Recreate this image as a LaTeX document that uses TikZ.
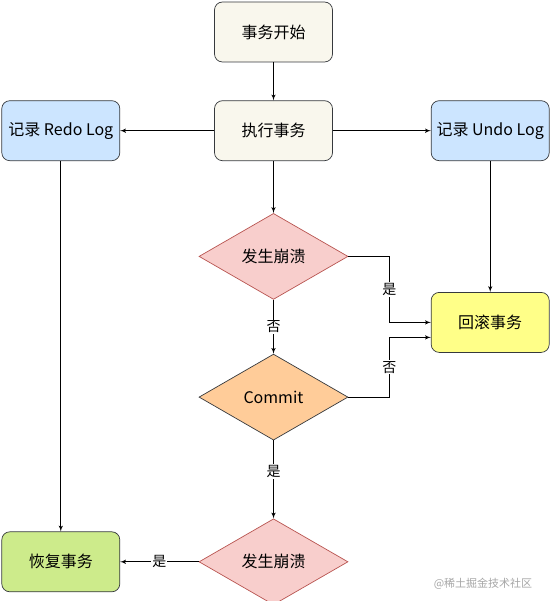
\documentclass[tikz,border=0pt]{standalone}
\usepackage{fontspec}
\setmainfont{Noto Sans CJK SC}
\usetikzlibrary{arrows,shapes.geometric,positioning}
\definecolor{boxline}{HTML}{36393D}
\definecolor{startfill}{HTML}{F9F7ED}
\definecolor{logfill}{HTML}{CCE5FF}
\definecolor{crashfill}{HTML}{F8CECC}
\definecolor{crashline}{HTML}{B85450}
\definecolor{commitfill}{HTML}{FFCC99}
\definecolor{rollfill}{HTML}{FFFF88}
\definecolor{recoverfill}{HTML}{CDEB8B}

\begin{document}
\begin{tikzpicture}[x=1pt,y=1pt,line width=1pt,>=latex',
    font=\fontsize{16}{19}\selectfont,
    box/.style={draw=boxline,line width=0.7pt,rounded corners=8pt,minimum width=118pt,minimum height=60pt,inner sep=2pt},
    choice/.style={diamond,draw=boxline,line width=0.7pt,aspect=1.73,minimum width=149pt,minimum height=86pt,inner sep=0pt},
    lbl/.style={fill=white,inner sep=1pt,font=\fontsize{14}{16}\selectfont}]
      \useasboundingbox (0,0) rectangle (551,-601);
      \node[box,fill=startfill] (start) at (273.5,-32) {事务开始};
      \node[box,fill=startfill,below=38pt of start] (exec) {执行事务};
      \node[box,fill=logfill,left=94pt of exec] (redo) {记录 Redo Log};
      \node[box,fill=logfill,right=98pt of exec] (undo) {记录 Undo Log};
      \node[choice,fill=crashfill,draw=crashline,below=52pt of exec] (crash1) {发生崩溃};
      \node[choice,fill=commitfill,below=54pt of crash1] (commit) {Commit};
      \node[choice,fill=crashfill,draw=crashline,below=78pt of commit] (crash2) {发生崩溃};
      \node[box,fill=rollfill,below=131pt of undo] (rollback) {回滚事务};
      \node[box,fill=recoverfill] (recover) at (redo |- crash2) {恢复事务};
      \coordinate (rollin) at ([yshift=-15pt]rollback.west);
      \draw[->] (start) -- (exec);
      \draw[->] (exec) -- (redo);
      \draw[->] (exec) -- (undo);
      \draw[->] (exec) -- (crash1);
      \draw[->] (undo) -- (rollback);
      \draw[->] (redo) -- (recover);
      \draw[->] (crash1) -- node[lbl] {否} (commit);
      \draw[->] (commit) -- node[lbl,pos=0.4] {是} (crash2);
      \draw[->] (crash2) -- node[lbl] {是} (recover);
      \draw[->] (crash1.east) -- ++(41,0) |- node[lbl,pos=0.25] {是} (rollback.west);
      \draw[->] (commit.east) -- ++(41,0) |- node[lbl,pos=0.25] {否} (rollin);
      % watermark
      \node[text=gray!70,font=\fontsize{11}{13}\selectfont] (mark) at (483,-584) {@稀土掘金技术社区};
    \end{tikzpicture}
\end{document}
